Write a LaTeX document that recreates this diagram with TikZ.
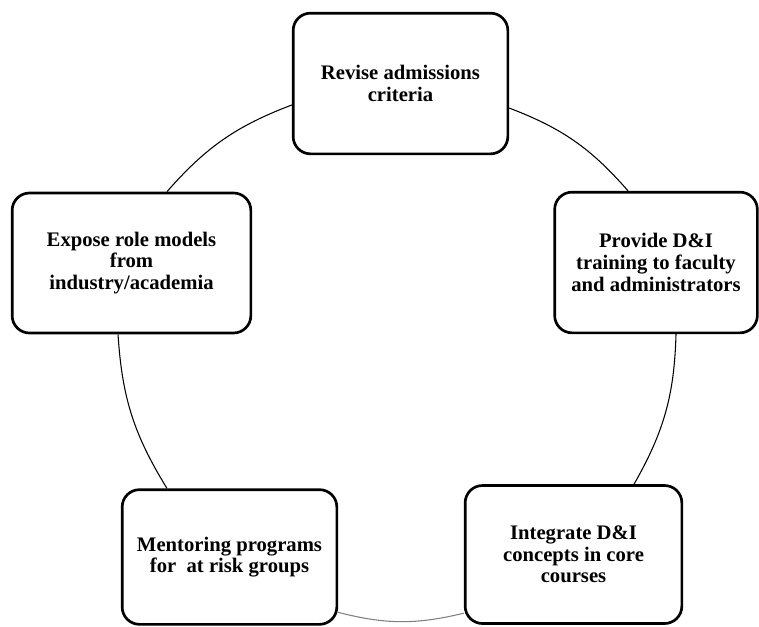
\documentclass[tikz,border=0pt]{standalone}
\usepackage{fontspec}
\setmainfont{Liberation Serif}
\usepackage{tikz}
\tikzstyle{stage} = [draw, line width=2pt, rounded corners=13pt, fill=white,
                     align=center, font=\fontsize{15.5}{16.3}\selectfont\bfseries]
\tikzstyle{link}  = [line width=0.8pt, bend left=14]

\begin{document}
\begin{tikzpicture}[x=0.75pt, y=-0.75pt]
  \useasboundingbox (0,0) rectangle (759,626);

  \node[stage, minimum width=161pt, minimum height=105.5pt] (revise) at (400.5,83.5)
    {Revise admissions\\criteria};
  \node[stage, minimum width=152pt, minimum height=105.5pt] (provide) at (656,262.5)
    {Provide D\&I\\training to faculty\\and administrators};
  \node[stage, minimum width=162.5pt, minimum height=103.5pt] (integrate) at (573.5,554.5)
    {Integrate D\&I\\concepts in core\\courses};
  \node[stage, minimum width=161pt, minimum height=101pt] (mentor) at (229.5,557)
    {Mentoring programs\\for~ at risk groups};
  \node[stage, minimum width=179pt, minimum height=105pt] (expose) at (131.5,263)
    {Expose role models\\from\\industry/academia};

  \draw[link] ([yshift=-18.4pt]revise.east) to ([xshift=-21pt]provide.north);
  \draw[link] ([xshift=15pt]provide.south) to ([xshift=45.4pt]integrate.north);
  \draw[link, gray] ([yshift=-44pt]integrate.west) to ([yshift=-41.5pt]mentor.east);
  \draw[link] ([xshift=-46.9pt]mentor.north) to ([xshift=-10.1pt]expose.south);
  \draw[link] ([xshift=26.6pt]expose.north) to ([yshift=-16.1pt]revise.west);
\end{tikzpicture}
\end{document}
